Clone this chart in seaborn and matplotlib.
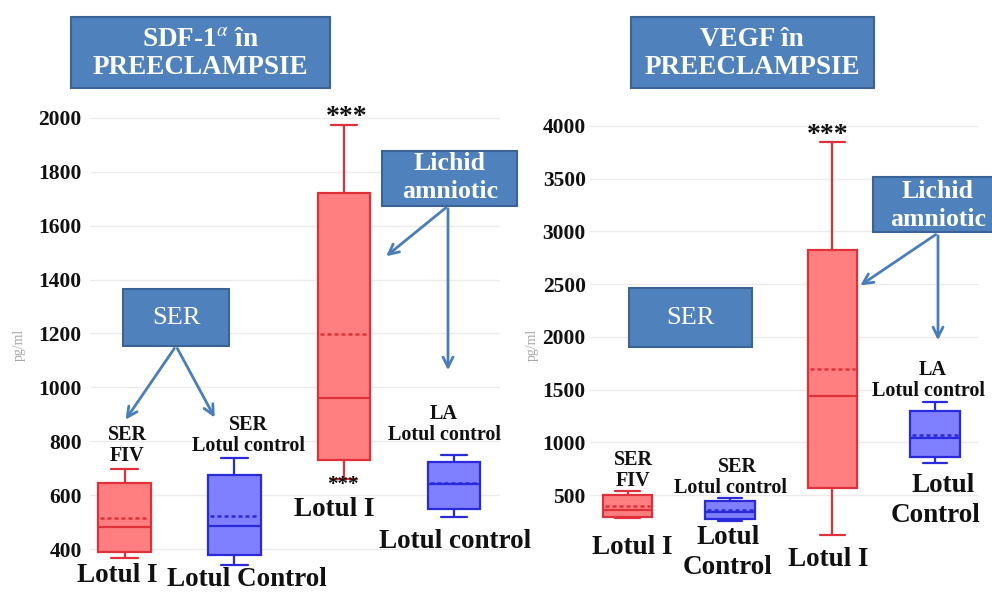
import numpy as np
import pandas as pd
import matplotlib
matplotlib.use("Agg")
import matplotlib.pyplot as plt
from matplotlib.patches import Rectangle, FancyArrowPatch
import seaborn as sns

# Groups (same order in both panels)
groups = ["SER FIV - Lotul I", "SER - Lotul control", "LA - Lotul I", "LA - Lotul control"]
group_color = ["red", "blue", "red", "blue"]

# SDF-1 alpha (pg/ml): five-number summaries and means
sdf_min = [366, 341, 660, 520]
sdf_q1 = [390, 378, 731, 548]
sdf_median = [481, 486, 962, 640]
sdf_q3 = [646, 675, 1722, 722]
sdf_max = [696, 737, 1974, 749]
sdf_mean = [514, 523, 1198, 645]
sdf_ticks = [400, 600, 800, 1000, 1200, 1400, 1600, 1800, 2000]

# VEGF (pg/ml): five-number summaries and means
vegf_min = [285, 256, 120, 801]
vegf_q1 = [294, 270, 563, 863]
vegf_median = [358, 342, 1442, 1038]
vegf_q3 = [500, 446, 2824, 1300]
vegf_max = [538, 469, 3845, 1379]
vegf_mean = [396, 358, 1692, 1069]
vegf_ticks = [500, 1000, 1500, 2000, 2500, 3000, 3500, 4000]

W, H = 992, 592
sns.set_theme(style="white")
plt.rcParams["font.family"] = ["Liberation Serif", "DejaVu Serif"]
plt.rcParams["mathtext.fontset"] = "stix"

FILL = {"red": "#FF7F80", "blue": "#7F80FF"}
EDGE = {"red": "#E0303A", "blue": "#2A2ADB"}
BOX_BLUE = "#4F81BD"
BOX_EDGE = "#3A6496"
ARROW = "#4A7EBB"


def long_frame(lo, q1, med, q3, hi):
    rows = []
    for g, c, *vals in zip(groups, group_color, lo, q1, med, q3, hi):
        for v in vals:
            rows.append({"grup": g, "culoare": c, "valoare": v})
    return pd.DataFrame(rows)


def draw_panel(ax, df, means, ticks, ylim, xlim, pad):
    for c in ["red", "blue"]:
        sub = df[df["culoare"] == c]
        sns.boxplot(data=sub, x="grup", y="valoare", order=groups, ax=ax,
                    color=FILL[c], linecolor=EDGE[c], linewidth=1.6,
                    width=0.48, whis=(0, 100), saturation=1, fliersize=0)
    for i, (m, c) in enumerate(zip(means, group_color)):
        ax.hlines(m, i - 0.22, i + 0.22, colors=EDGE[c], linewidth=1.8,
                  linestyles=(0, (1.6, 1.2)), zorder=5)
    ax.set_xlim(*xlim)
    ax.set_ylim(*ylim)
    ax.set_yticks(ticks)
    ax.set_yticklabels([str(t) for t in ticks], fontsize=15.5,
                       fontweight="bold", color="#111111")
    ax.tick_params(axis="y", length=0, pad=pad)
    ax.set_xticks([])
    ax.set_xlabel("")
    ax.set_ylabel("")
    ax.grid(axis="y", color="#EBEBEB", linewidth=1.0)
    ax.set_axisbelow(True)
    sns.despine(ax=ax, left=True, bottom=True)


fig = plt.figure(figsize=(W / 100, H / 100), dpi=100)
fig.patch.set_facecolor("white")

ax1 = fig.add_axes([90 / W, 1 - 580 / H, 410 / W, 488 / H])
ax2 = fig.add_axes([590 / W, 1 - 580 / H, 388 / W, 488 / H])

draw_panel(ax1, long_frame(sdf_min, sdf_q1, sdf_median, sdf_q3, sdf_max),
           sdf_mean, sdf_ticks, (285, 2096), (-0.315, 3.42), 6)
draw_panel(ax2, long_frame(vegf_min, vegf_q1, vegf_median, vegf_q3, vegf_max),
           vegf_mean, vegf_ticks, (-306, 4322), (-0.366, 3.42), 3)


def P(x, y):
    return (x / W, 1 - y / H)


def label_box(x0, y0, x1, y1):
    fig.add_artist(Rectangle(P(x0, y1), (x1 - x0) / W, (y1 - y0) / H,
                             transform=fig.transFigure, facecolor=BOX_BLUE,
                             edgecolor=BOX_EDGE, linewidth=1.5, zorder=2))


def txt(x, y, s, size, weight="bold", color="#111111", **kw):
    fig.text(*P(x, y), s, fontsize=size, fontweight=weight, color=color,
             ha="center", va="center", zorder=4, **kw)


def arrow(x0, y0, x1, y1):
    fig.add_artist(FancyArrowPatch(P(x0, y0), P(x1, y1), transform=fig.transFigure,
                                   arrowstyle="->", mutation_scale=18,
                                   color=ARROW, linewidth=2.0, zorder=3))


# Panel titles
label_box(71, 17, 330, 88)
txt(200, 39, r"SDF-1$^{\alpha}$ în", 19.5, color="white")
txt(200, 68, "PREECLAMPSIE", 19.5, color="white")
label_box(631, 17, 874, 88)
txt(752, 39, "VEGF în", 19.5, color="white")
txt(752, 68, "PREECLAMPSIE", 19.5, color="white")

# Sample-type callouts
label_box(382, 151, 517, 206)
txt(450, 164, "Lichid", 18.5, color="white")
txt(450, 192, "amniotic", 18.5, color="white")
label_box(873, 177, 995, 232)
txt(938, 191, "Lichid", 18.5, color="white")
txt(938, 219, "amniotic", 18.5, color="white")
label_box(123, 289, 229, 346)
txt(176, 318, "SER", 19, weight="normal", color="white")
label_box(629, 288, 752, 347)
txt(690, 318, "SER", 19, weight="normal", color="white")

arrow(176, 346, 124, 422)
arrow(176, 346, 216, 420)
arrow(448, 206, 384, 258)
arrow(448, 206, 448, 373)
arrow(938, 233, 858, 287)
arrow(938, 233, 938, 343)

# y-axis units
txt(19, 345, "pg/ml", 10, weight="normal", color="#A8A8A8", rotation=90)
txt(532, 345, "pg/ml", 10, weight="normal", color="#A8A8A8", rotation=90)

# Group labels, SDF-1 alpha panel
txt(127, 435, "SER", 14.5)
txt(127, 456, "FIV", 14.5)
txt(248, 425, "SER", 14.5)
txt(248, 446, "Lotul control", 14.5)
txt(444, 414, "LA", 14.5)
txt(444, 435, "Lotul control", 14.5)
txt(117, 576, "Lotul I", 19.5)
txt(247, 579, "Lotul Control", 19.5)
txt(334, 510, "Lotul I", 19.5)
txt(455, 541, "Lotul control", 19.5)
txt(347, 118, "***", 20)
txt(343, 485, "***", 15)

# Group labels, VEGF panel
txt(633, 460, "SER", 14.5)
txt(633, 481, "FIV", 14.5)
txt(737, 467, "SER", 14.5)
txt(730, 488, "Lotul control", 14.5)
txt(933, 370, "LA", 14.5)
txt(928, 391, "Lotul control", 14.5)
txt(632, 548, "Lotul I", 19.5)
txt(728, 537, "Lotul", 19.5)
txt(728, 567, "Control", 19.5)
txt(828, 560, "Lotul I", 19.5)
txt(943, 486, "Lotul", 19.5)
txt(935, 516, "Control", 19.5)
txt(828, 135, "***", 20)

fig.savefig("out.png", dpi=100, facecolor="white")
